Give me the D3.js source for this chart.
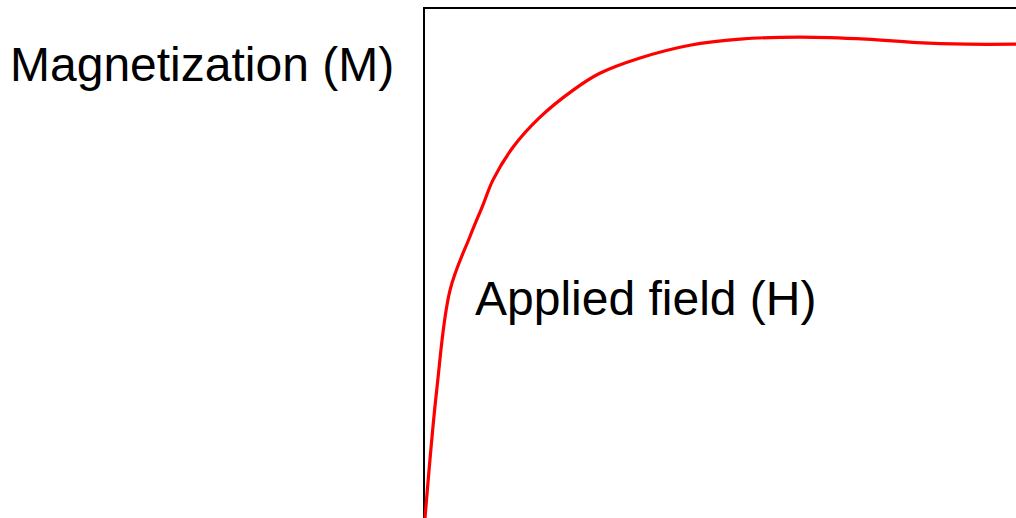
<!DOCTYPE html>
<html>
<head>
<meta charset="utf-8">
<script src="https://cdn.jsdelivr.net/npm/d3@7"></script>
<style>
  html, body { margin: 0; padding: 0; background: #fff; }
  svg { display: block; }
</style>
</head>
<body>
<svg id="chart" width="1016" height="518"></svg>
<script>
// Applied field H (arbitrary units, 0..100) and magnetization M (0..100)
const fieldH = [0.17, 2.15, 4.4, 7.8, 9.97, 11.66, 15.03, 19.6, 25.2, 29.7, 36.5, 44.9, 53.4, 63.5, 74.7, 83.3, 91.7, 100];
const magM   = [0, 25.1, 44.7, 55.3, 61.4, 66.3, 72.7, 78.6, 83.9, 87.2, 90.2, 92.7, 93.9, 94.3, 93.9, 93.2, 92.9, 92.9];
const yAxisLabel = "Magnetization (M)";
const xAxisLabel = "Applied field (H)";

const svg = d3.select("#chart");
const x = d3.scaleLinear().domain([0, 100]).range([424, 1016]);
const y = d3.scaleLinear().domain([0, 100]).range([518, 8]);

// frame (extends beyond the visible area on right and bottom)
svg.append("path")
  .attr("d", `M${x(0)},${y(-10)} L${x(0)},${y(100)} L${x(110)},${y(100)}`)
  .attr("fill", "none")
  .attr("stroke", "#000")
  .attr("stroke-width", 2);

const data = fieldH.map((h, i) => [h, magM[i]]);
const line = d3.line().x(d => x(d[0])).y(d => y(d[1])).curve(d3.curveCatmullRom.alpha(0.5));

svg.append("path")
  .datum(data)
  .attr("d", line)
  .attr("fill", "none")
  .attr("stroke", "#ff0000")
  .attr("stroke-width", 3.2)
  .attr("stroke-linejoin", "round");

svg.append("text")
  .attr("x", 10).attr("y", 81)
  .attr("font-family", "Liberation Sans, Arial, sans-serif")
  .attr("font-size", 48)
  .attr("fill", "#000")
  .text(yAxisLabel);

svg.append("text")
  .attr("x", 475).attr("y", 315)
  .attr("font-family", "Liberation Sans, Arial, sans-serif")
  .attr("font-size", 48)
  .attr("fill", "#000")
  .text(xAxisLabel);
</script>
</body>
</html>
